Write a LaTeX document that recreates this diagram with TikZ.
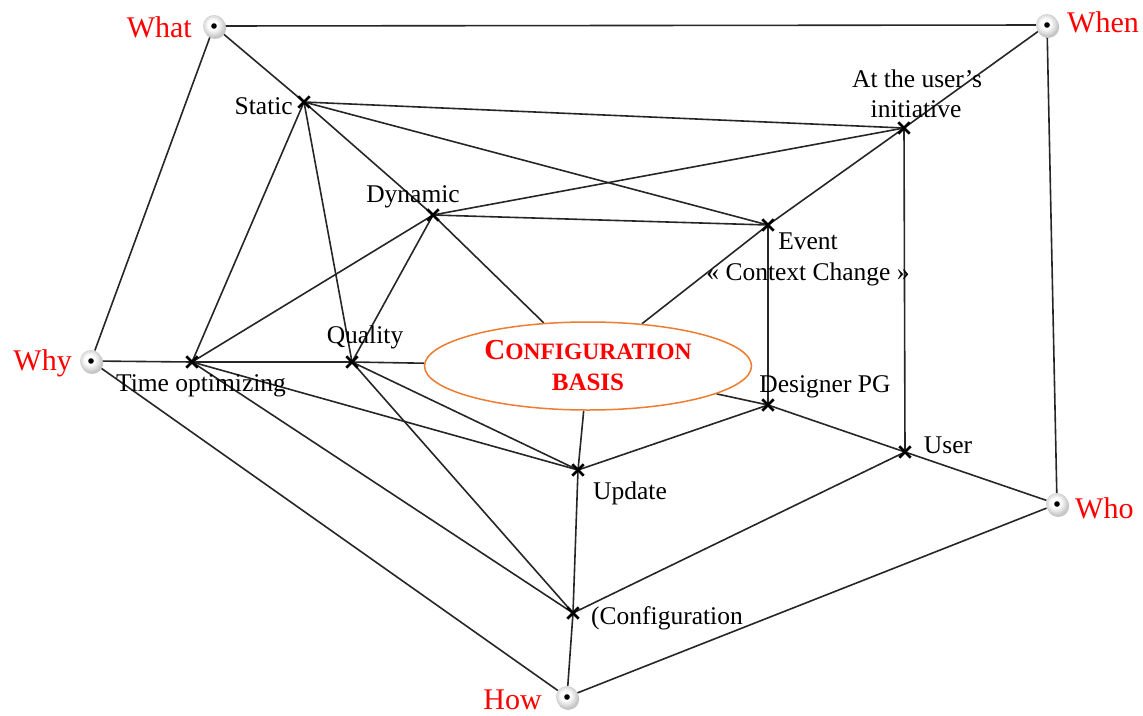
\documentclass[tikz,border=0pt]{standalone}
\usepackage{fontspec}
\setmainfont{Liberation Serif}
\usetikzlibrary{shapes.misc,shapes.geometric,backgrounds}
\definecolor{ellorange}{HTML}{ED7D31}
\pgfdeclareradialshading{sphere}{\pgfpoint{-4bp}{4bp}}{color(0bp)=(white); color(11bp)=(white); color(19bp)=(gray!22); color(25bp)=(gray!40); color(50bp)=(gray!40)}
\begin{document}
\begin{tikzpicture}[x=1pt,y=-1pt,
  outer/.style={circle,minimum size=22pt,inner sep=0pt,shading=sphere},
  xmark/.style={cross out,draw=black,line width=2.8pt,minimum size=8.5pt,inner sep=0pt},
  conn/.style={draw=black!85,line width=1.6pt},
  lbl/.style={font=\fontsize{25.5}{30}\selectfont,inner sep=0pt,text=black},
  qlbl/.style={font=\fontsize{30}{34}\selectfont,inner sep=0pt,text=red},
  basis/.style={ellipse,draw=ellorange,line width=1.5pt,fill=white,minimum width=327pt,minimum height=88pt,inner sep=0pt,align=center,text=red,font=\bfseries\fontsize{23.5}{31}\selectfont}
]
\useasboundingbox (0,0) rectangle (1143,715);

% outer question nodes (with soft shadow)
\foreach \p in {(214,26),(1047,25),(91,361),(1057,504),(567,697)}
  \fill[gray!45] \p ++(1.2,2) circle (11pt);
\node[outer] (what) at (214,26) {};
\node[outer] (when) at (1047,25) {};
\node[outer] (why) at (91,361) {};
\node[outer] (who) at (1057,504) {};
\node[outer] (how) at (567,697) {};
\foreach \n in {what,when,why,who,how}
  \fill[black] (\n.center) circle (2.8pt);

% centre ellipse
\node[basis] (basis) at (588,366) {{\fontsize{29}{31}\selectfont C}ONFIGURATION\\{\fontsize{25}{31}\selectfont BASIS}};

% inner item marks
\node[xmark] (static) at (304,102) {};
\node[xmark] (init) at (904,128) {};
\node[xmark] (dynamic) at (433,215) {};
\node[xmark] (event) at (768,225) {};
\node[xmark] (quality) at (352,362) {};
\node[xmark] (time) at (192,362) {};
\node[xmark] (designer) at (768,405) {};
\node[xmark] (user) at (905,452) {};
\node[xmark] (update) at (578,470) {};
\node[xmark] (config) at (573,613) {};

% question labels
\node[qlbl,anchor=base east] (what-l) at (192,37) {What};
\node[qlbl,anchor=base west] (when-l) at (1067,32) {When};
\node[qlbl,anchor=base east] (why-l) at (72,370) {Why};
\node[qlbl,anchor=base west] (who-l) at (1075,518) {Who};
\node[qlbl,anchor=base east] (how-l) at (542,709) {How};

% item labels
\node[lbl,anchor=base east] (static-l) at (293,114) {Static};
\node[lbl,anchor=base] (init-l1) at (917,87) {At the user’s};
\node[lbl,anchor=base] (init-l2) at (916,117) {initiative};
\node[lbl,anchor=base] (dynamic-l) at (413,202) {Dynamic};
\node[lbl,anchor=base] (event-l1) at (808,249) {Event};
\node[lbl,anchor=base] (event-l2) at (808,280) {« Context Change »};
\node[lbl,anchor=base] (quality-l) at (365,343) {Quality};
\node[lbl,anchor=base] (time-l) at (201,391) {Time optimizing};
\node[lbl,anchor=base] (designer-l) at (825,392) {Designer PG};
\node[lbl,anchor=base] (user-l) at (948,453) {User};
\node[lbl,anchor=base] (update-l) at (630,499) {Update};
\node[lbl,anchor=base] (config-l) at (667,624) {(Configuration};

\begin{scope}[on background layer]
  % outer frame
  \draw[conn] (what) -- (when);
  \draw[conn] (what) -- (why);
  \draw[conn] (when) -- (who);
  \draw[conn] (why) -- (how);
  \draw[conn] (who) -- (how);
  % spokes from questions
  \draw[conn] (what) -- (static.center);
  \draw[conn] (when) -- (init.center);
  \draw[conn] (why) -- (time.center);
  \draw[conn] (who) -- (user.center);
  \draw[conn] (how) -- (config.center);
  % Static
  \draw[conn] (static.center) -- (init.center);
  \draw[conn] (static.center) -- (event.center);
  \draw[conn] (static.center) -- (dynamic.center);
  \draw[conn] (static.center) -- (time.center);
  \draw[conn] (static.center) -- (quality.center);
  % Dynamic
  \draw[conn] (dynamic.center) -- (event.center);
  \draw[conn] (dynamic.center) -- (init.center);
  \draw[conn] (dynamic.center) -- (time.center);
  \draw[conn] (dynamic.center) -- (quality.center);
  \draw[conn] (dynamic.center) -- (basis);
  % When items
  \draw[conn] (init.center) -- (event.center);
  \draw[conn] (init.center) -- (user.center);
  \draw[conn] (event.center) -- (basis);
  \draw[conn] (event.center) -- (designer.center);
  % Why items
  \draw[conn] (time.center) -- (quality.center);
  \draw[conn] (time.center) -- (update.center);
  \draw[conn] (time.center) -- (config.center);
  \draw[conn] (quality.center) -- (basis);
  \draw[conn] (quality.center) -- (update.center);
  \draw[conn] (quality.center) -- (config.center);
  % How items
  \draw[conn] (update.center) -- (basis);
  \draw[conn] (update.center) -- (designer.center);
  \draw[conn] (update.center) -- (config.center);
  % Who items
  \draw[conn] (designer.center) -- (basis);
  \draw[conn] (designer.center) -- (user.center);
  \draw[conn] (user.center) -- (config.center);
\end{scope}
\end{tikzpicture}
\end{document}
